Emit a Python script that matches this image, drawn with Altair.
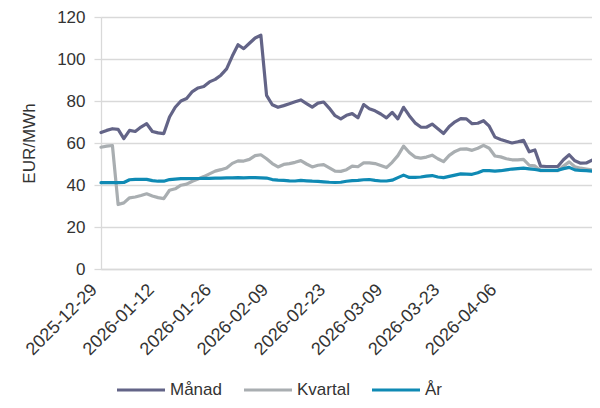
import altair as alt
import pandas as pd

# Trading days (categories) and axis labels
dates = [d.strftime("%Y-%m-%d") for d in pd.bdate_range("2025-12-29", "2026-04-28")]
tick_labels = ["2025-12-29", "2026-01-12", "2026-01-26", "2026-02-09",
               "2026-02-23", "2026-03-09", "2026-03-23", "2026-04-06"]
y_ticks = [0, 20, 40, 60, 80, 100, 120]

series = ["Månad", "Kvartal", "År"]
colors = ["#636487", "#a9aeb1", "#0f8ab4"]

manad = [65, 66, 66.8, 66.5, 62.1, 66, 65.5, 67.6, 69.2, 65.5,
         64.8, 64.5, 72.4, 77, 80, 81.2, 84.5, 86.2, 86.9, 89.1,
         90.3, 92.3, 95.3, 101.4, 106.8, 104.9, 107.5, 110, 111.3, 82.7,
         78.2, 77, 77.8, 78.7, 79.6, 80.5, 78.8, 77.1, 79, 79.5,
         76.5, 73, 71.5, 73.2, 74, 72, 78.3, 76.3, 75.3, 73.8,
         72, 74.6, 71.5, 77, 73, 69.6, 67.6, 67.5, 69, 66.8,
         64.5, 67.9, 70.1, 71.6, 71.5, 69.2, 69.4, 70.6, 68, 62.8,
         61.7, 60.8, 60, 60.6, 61.3, 55.8, 56.7, 49, 48.8, 48.8,
         48.8, 52, 54.4, 51.5, 50.4, 50.5, 51.8]

kvartal = [58, 58.5, 58.8, 30.7, 31.5, 33.9, 34.3, 35, 35.8, 34.8,
           34, 33.5, 37.5, 38.2, 39.9, 40.4, 41.8, 42.9, 44, 45.3,
           46.6, 47.3, 48.1, 50.3, 51.5, 51.4, 52.2, 54, 54.4, 52.5,
           50.2, 48.6, 49.8, 50.2, 50.8, 51.6, 50, 48.6, 49.4, 49.7,
           48.2, 46.6, 46.5, 47.3, 49, 48.7, 50.5, 50.5, 50.2, 49.3,
           48.3, 50.8, 54, 58.5, 55.5, 53.3, 52.8, 53.3, 54.2, 52.5,
           51.1, 54.1, 56, 57.1, 57.2, 56.5, 57.5, 58.9, 57.5, 53.8,
           53.4, 52.5, 52, 52, 52.2, 49.4, 49.1, 46.8, 46.8, 46.8,
           46.8, 49, 51, 48.7, 48, 47.6, 47.2]

ar = [41.1, 41.1, 41.1, 41.1, 41.2, 42.5, 42.7, 42.7, 42.7, 42.1,
      41.8, 41.8, 42.6, 42.8, 43, 43, 43.1, 43.1, 43.2, 43.2,
      43.3, 43.3, 43.4, 43.4, 43.5, 43.4, 43.5, 43.5, 43.4, 43.3,
      42.6, 42.3, 42.2, 42, 41.9, 42.2, 42, 41.8, 41.7, 41.5,
      41.3, 41.2, 41.3, 41.8, 42.1, 42.2, 42.5, 42.6, 42.2, 41.9,
      41.9, 42.3, 43.5, 44.7, 43.6, 43.6, 43.8, 44.2, 44.5, 43.8,
      43.5, 44.1, 44.7, 45.3, 45.2, 45.1, 45.8, 46.9, 46.8, 46.6,
      46.8, 47.2, 47.6, 47.8, 48, 47.7, 47.4, 47, 47, 47,
      47, 47.8, 48.4, 47.2, 46.9, 46.8, 46.6]

rows = []
for name, vals in zip(series, [manad, kvartal, ar]):
    for i, (d, v) in enumerate(zip(dates, vals)):
        rows.append({"i": i, "date": d, "serie": name, "value": v})
df = pd.DataFrame(rows)

tick_pos = [dates.index(t) for t in tick_labels]
label_map = "{" + ", ".join(f"'{p}': '{t}'" for p, t in zip(tick_pos, tick_labels)) + "}"

FONT = "Liberation Sans"
FS = 17
GRID = "#d9d9d9"
TXT = "#333333"

x_enc = alt.X(
    "i:Q",
    scale=alt.Scale(domain=[0, len(dates) - 1], nice=False, zero=False),
    axis=alt.Axis(
        values=tick_pos, title=None, labelAngle=-45, labelAlign="right",
        labelBaseline="middle", labelPadding=18, labelOffset=-7, ticks=False,
        grid=False, domainColor=GRID, domainWidth=1.3, labelFont=FONT,
        labelFontSize=18, labelColor=TXT, labelOverlap=False,
        labelFlush=False, labelBound=False,
        labelExpr=f"{label_map}[datum.value + '']",
    ),
)
y_enc = alt.Y(
    "value:Q",
    scale=alt.Scale(domain=[0, 120], nice=False, zero=True),
    axis=alt.Axis(
        values=y_ticks, title="EUR/MWh", grid=True, gridColor=GRID,
        gridWidth=1.3, tickSize=7, tickColor=GRID, tickWidth=1.3,
        domainColor=GRID, domainWidth=1.3, labelPadding=9, labelFont=FONT,
        labelFontSize=FS, labelColor=TXT, titleFont=FONT,
        titleFontSize=FS, titleFontWeight="normal", titleColor=TXT,
        titlePadding=18,
    ),
)
color_enc = alt.Color(
    "serie:N",
    scale=alt.Scale(domain=series, range=colors),
    legend=alt.Legend(
        title=None, orient="none", direction="horizontal", legendX=14,
        legendY=347, symbolType="stroke", symbolSize=2304,
        symbolStrokeWidth=3.2, labelFont=FONT, labelFontSize=FS,
        labelColor=TXT, labelOffset=3, columnPadding=15,
    ),
)

layers = []
for name in series:
    layers.append(
        alt.Chart(df)
        .transform_filter(alt.datum.serie == name)
        .mark_line(strokeWidth=3.2, strokeJoin="round", strokeCap="round")
        .encode(x=x_enc, y=y_enc, color=color_enc)
    )

chart = (
    alt.layer(*layers)
    .properties(
        width=491, height=252,
        autosize=alt.AutoSizeParams(type="none"),
        padding={"left": 93, "top": 9, "right": 0, "bottom": 131},
        background="white",
    )
    .configure_view(stroke=None)
)

chart.save("out.html", embed_options={"renderer": "svg", "actions": False})
